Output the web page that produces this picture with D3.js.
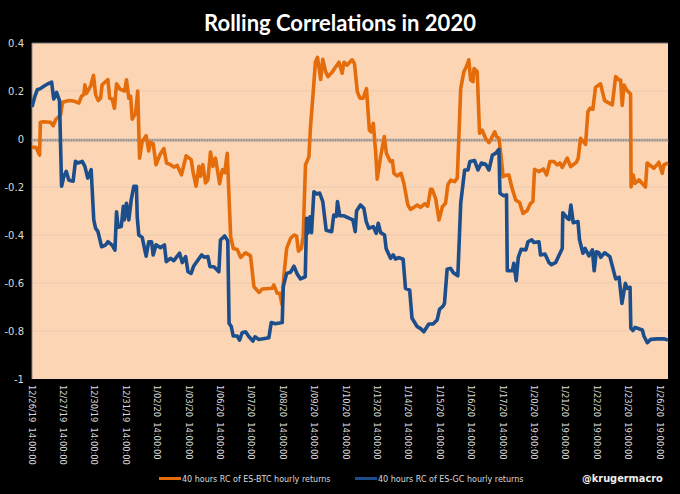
<!DOCTYPE html>
<html>
<head>
<meta charset="utf-8">
<script src="https://d3js.org/d3.v7.min.js"></script>
<style>
body { margin: 0; background: #000; }
svg { display: block; }
text { fill: #d9d9d9; font-family: "DejaVu Sans", sans-serif; }
</style>
</head>
<body>
<svg id="chart" width="680" height="494"></svg>
<script>
// hours since the first sample, one list per series
const btcHours = [0,1.6,2.9,3.2,4.5,7.1,8.1,9,9.9,10.9,11.7,14.1,16,17.9,18.9,19.8,20.2,20.8,22.4,23.5,24.3,25.3,26.2,26.8,29,29.7,30.6,31.5,32.3,33.6,35.4,36.1,37,37.7,38.3,39.6,40.4,41.1,42.1,43.6,44.6,45.3,46.3,47.4,48.9,50.4,51.4,52.9,54.2,55.5,57.1,58.9,60.8,61.6,62.7,63.8,64.4,65.3,66.3,67.2,68.2,69.1,70.1,71.7,72.7,73.6,74.6,75.9,76.9,78.4,79.7,81.6,83.5,84.8,86.7,88,91.8,92.4,93.7,94.7,95.5,96.2,97.3,98.8,100.1,101.1,101.8,102.9,103.6,104.5,105.8,106.4,107.5,108.3,109.1,110.3,111.1,112.2,113.1,114.8,116,117.3,118.5,119.2,120.4,122.3,123.2,124.3,125.3,126.5,127.8,128.9,129.6,130.4,131.3,131.9,133.2,134.6,135.4,136.9,137.7,138.3,139.5,141,142.1,143.6,144.6,145.9,147.2,148.4,150,151.2,152.3,152.9,154.2,155.5,156.8,158,158.9,160,161.5,162.5,163.8,165,165.9,166.9,167.6,168.5,168.9,170.1,171,172,173.3,174.6,175.5,176.8,177.5,178.4,179.1,180,181,182.2,183.3,184.8,186.3,187.6,189.2,190.5,191.4,192,193.7,195.4,196.6,197.9,199.4,200.7,201.7,202.6,204.5,205.8,208,208.7,209.6,211.5,212.4,213.2,214.3,215.3,217.2,218.8,221.7,223,224.3,224.9,225.5,226.2,227.2,228.7,228.9,229.7,230.4,231.9,234.4,235,237.6,239.5,240.8,241.4,243];
const btcValues = [-.033,-.036,-.067,.07,.072,.07,.055,.08,.09,.1,.153,.16,.158,.15,.178,.185,.226,.19,.22,.265,.185,.16,.17,.226,.247,.17,.167,.128,.23,.208,.2,.247,.17,.178,.083,.108,.2,-.08,-.01,.014,-.05,-.014,-.02,-.107,-.065,-.04,-.1,-.107,-.117,-.11,-.149,-.07,-.086,-.14,-.197,-.114,-.155,-.107,-.183,-.17,-.054,-.114,-.08,-.186,-.128,-.14,-.06,-.407,-.456,-.46,-.493,-.474,-.487,-.615,-.639,-.625,-.622,-.608,-.643,-.643,-.69,-.574,-.456,-.414,-.4,-.405,-.467,-.456,-.407,-.108,-.074,.05,.204,.322,.34,.248,.332,.28,.26,.28,.3,.32,.274,.32,.308,.33,.315,.197,.17,.17,.21,.037,.03,.065,-.053,-.167,-.074,.01,-.06,-.094,-.09,-.143,-.154,-.143,-.185,-.275,-.293,-.285,-.275,-.285,-.27,-.28,-.21,-.21,-.247,-.337,-.282,-.268,-.19,-.171,-.178,-.162,.21,.28,.3,.33,.246,.239,.294,.28,.024,.037,.003,-.015,.003,.03,.01,.003,-.06,-.157,-.151,-.15,-.2,-.254,-.265,-.31,-.298,-.268,-.26,-.126,-.136,-.125,-.15,-.094,-.094,-.108,-.1,-.118,-.08,-.115,-.097,-.08,.003,-.022,.114,.128,.124,.215,.23,.16,.142,.26,.246,.246,.14,.225,.204,.187,-.2,-.15,-.185,-.17,-.2,-.1,-.122,-.097,-.143,-.108,-.1];

const gcHours = [0,1.1,2,3.2,4.5,6.1,7.5,8.3,9.4,10.5,11.3,12.2,13.1,14.1,15.7,16.6,17.5,19.2,20.2,21.3,22.6,23.6,24.3,25.2,26.6,28.1,29,30.6,31.7,32.3,32.9,34.1,34.9,35.3,36.1,37,37.9,38.9,39.9,40.2,40.8,42.1,43.6,44.6,45.7,46.3,47.4,49.1,50.6,51.3,52.9,54.2,55.5,56.4,57.4,58.7,59.6,60.8,61.8,64.8,65.9,67.2,68,69.5,71.4,72,73.6,74.8,75.3,76.1,76.9,78.4,79.3,80.3,81.6,82.9,84.4,85.2,86.7,90.5,91.4,93,95.6,96,97.3,98.8,100.1,101.3,102.6,104.4,104.9,105.4,106.2,106.8,107.7,108.9,109.9,111.1,112.4,114.5,115.3,116.3,116.7,117.6,119.2,121.1,122.6,123.5,124,125.5,126.8,127.7,128.7,130.4,131.5,132.3,133.2,134.7,135.3,137,138,138.9,140.2,141.8,142.7,144.3,145.2,147.2,148.5,149.7,151.6,153.2,154.8,155.7,157.1,157.6,158.6,159.9,161,162.7,163.8,165.3,166.6,167.3,169.1,170.4,171.7,173.3,174.6,175.9,177.1,178.4,178.8,180.1,181.3,181.6,183.5,184.1,185,185.8,186.9,188.7,189.5,190.9,191.8,193.7,194.3,196,197.5,198.5,200.1,202.6,202.8,204.5,205.2,205.9,206.8,208.6,209.2,210.5,211.3,212.8,214.1,214.8,215.6,216.6,217.3,218.8,220.8,223,224.3,225.4,226.7,227.4,228.5,228.8,229.6,230.4,233.2,233.8,235.1,236.4,238.9,241.4,243];
const gcValues = [.133,.178,.205,.21,.22,.23,.237,.167,.194,.16,-.197,-.155,-.135,-.172,-.176,-.093,-.1,-.093,-.114,-.163,-.128,-.337,-.372,-.386,-.449,-.442,-.428,-.442,-.463,-.303,-.368,-.365,-.28,-.337,-.268,-.337,-.254,-.197,-.197,-.324,-.4,-.41,-.488,-.428,-.428,-.483,-.441,-.453,-.441,-.511,-.497,-.507,-.488,-.476,-.515,-.49,-.553,-.56,-.529,-.483,-.493,-.49,-.532,-.532,-.553,-.421,-.404,-.424,-.768,-.78,-.821,-.821,-.838,-.807,-.803,-.824,-.842,-.824,-.835,-.828,-.765,-.77,-.765,-.615,-.56,-.555,-.53,-.562,-.583,-.574,-.33,-.393,-.324,-.39,-.22,-.229,-.225,-.261,-.38,-.386,-.317,-.322,-.261,-.32,-.32,-.33,-.337,-.386,-.3,-.275,-.289,-.344,-.372,-.365,-.393,-.351,-.39,-.4,-.456,-.497,-.483,-.5,-.494,-.501,-.622,-.63,-.747,-.782,-.79,-.803,-.771,-.771,-.754,-.71,-.696,-.685,-.543,-.539,-.557,-.57,-.268,-.129,-.129,-.094,-.09,-.129,-.1,-.105,-.129,-.067,-.06,-.043,-.226,-.236,-.233,-.549,-.549,-.518,-.59,-.493,-.46,-.462,-.428,-.42,-.431,-.428,-.483,-.479,-.515,-.524,-.514,-.456,-.307,-.33,-.335,-.275,-.349,-.344,-.42,-.476,-.456,-.487,-.462,-.549,-.47,-.474,-.493,-.474,-.49,-.583,-.576,-.685,-.601,-.622,-.618,-.789,-.798,-.785,-.796,-.821,-.849,-.835,-.833,-.832,-.838];

const dateLabels = ["12/26/19  14:00:00","12/27/19  14:00:00","12/30/19  14:00:00","12/31/19  14:00:00","1/02/20  14:00:00","1/03/20  14:00:00","1/06/20  14:00:00","1/07/20  14:00:00","1/08/20  14:00:00","1/09/20  14:00:00","1/10/20  14:00:00","1/13/20  14:00:00","1/14/20  14:00:00","1/15/20  14:00:00","1/16/20  14:00:00","1/17/20  14:00:00","1/20/20  19:00:00","1/21/20  19:00:00","1/22/20  19:00:00","1/23/20  19:00:00","1/26/20  19:00:00"];
const yTicks = [0.4,0.2,0,-0.2,-0.4,-0.6,-0.8,-1];
const seriesNames = ["40 hours RC of ES-BTC hourly returns","40 hours RC of ES-GC hourly returns"];

const svg = d3.select("#chart");

const x = d3.scaleLinear().domain([0,243]).range([32,668]);
const y = d3.scaleLinear().domain([-1,0.4]).range([379,43]);

//plot background
svg.append("rect")
  .attr("x",32).attr("y",43)
  .attr("width",636).attr("height",336)
  .attr("fill","#fcd5b5");

//gridlines
svg.selectAll("line.grid").data(yTicks.filter(d => d != 0 && d != 0.4 && d != -1)).enter()
  .append("line")
  .attr("x1",32).attr("x2",668)
  .attr("y1",d => y(d)).attr("y2",d => y(d))
  .attr("stroke","#eccab0").attr("stroke-width",1);

//left axis and top edge
svg.append("line").attr("x1",32).attr("x2",32).attr("y1",43).attr("y2",379).attr("stroke","#8c8c8c");
svg.append("line").attr("x1",32).attr("x2",668).attr("y1",43).attr("y2",43).attr("stroke","#6e6e6e");

//zero line with a tick for every hour
svg.append("line").attr("x1",32).attr("x2",668)
  .attr("y1",y(0)+1).attr("y2",y(0)+1)
  .attr("stroke","#b3aba3").attr("stroke-width",2.5);
svg.selectAll("line.hour").data(d3.range(0,244)).enter()
  .append("line")
  .attr("x1",d => x(d)).attr("x2",d => x(d))
  .attr("y1",y(0)).attr("y2",y(0)+3)
  .attr("stroke","#8f8a85").attr("stroke-width",0.7);

//y labels
svg.selectAll("text.ylab").data(yTicks).enter()
  .append("text")
  .attr("x",24).attr("y",d => y(d)+4)
  .attr("text-anchor","end")
  .attr("font-size",10)
  .text(d => d);

//date labels, one every 12 hours
svg.selectAll("text.xlab").data(dateLabels).enter()
  .append("text")
  .attr("transform",(d,i) => "translate(" + (x(i*12)-3.5) + ",385) rotate(90)")
  .attr("font-size",8.3)
  .attr("xml:space","preserve")
  .attr("fill","#c8c8c8")
  .text(d => d);

const line = d3.line().x(d => x(d[0])).y(d => y(d[1]));

//orange first, blue goes on top
svg.append("path")
  .datum(btcHours.map((h,i) => [h,btcValues[i]]))
  .attr("d",line).attr("fill","none")
  .attr("stroke","#e46c0a").attr("stroke-width",3.6)
  .attr("stroke-linejoin","round");
svg.append("path")
  .datum(gcHours.map((h,i) => [h,gcValues[i]]))
  .attr("d",line).attr("fill","none")
  .attr("stroke","#1c4e8c").attr("stroke-width",3.6)
  .attr("stroke-linejoin","round");

//title
svg.append("text")
  .attr("x",340).attr("y",31)
  .attr("text-anchor","middle")
  .attr("font-size",22).attr("font-weight","bold")
  .style("font-family","Lato, sans-serif")
  .style("fill","#fff")
  .text("Rolling Correlations in 2020");

//legend
svg.append("line").attr("x1",159).attr("x2",181).attr("y1",478.5).attr("y2",478.5).attr("stroke","#e46c0a").attr("stroke-width",3);
svg.append("text").attr("x",182).attr("y",482).attr("font-size",8).attr("fill","#c8c8c8").text(seriesNames[0]);
svg.append("line").attr("x1",355).attr("x2",377).attr("y1",478.5).attr("y2",478.5).attr("stroke","#1c4e8c").attr("stroke-width",3);
svg.append("text").attr("x",378).attr("y",482).attr("font-size",8).text(seriesNames[1]);
svg.append("text").attr("x",582).attr("y",482).attr("font-size",9.8).attr("font-weight","bold").style("fill","#eee").text("@krugermacro");
</script>
</body>
</html>
